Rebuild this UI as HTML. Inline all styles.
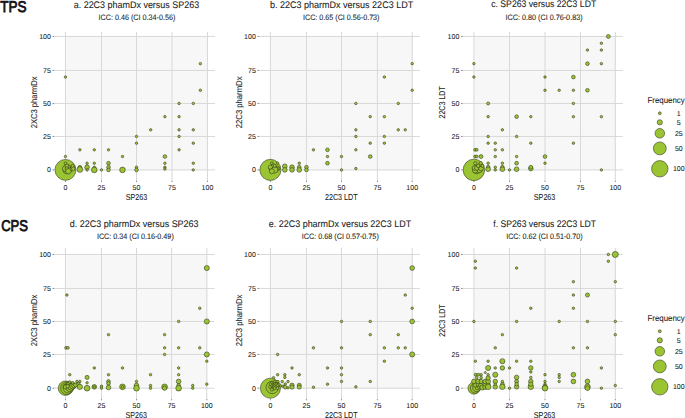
<!DOCTYPE html><html><head><meta charset="utf-8"><style>html,body{margin:0;padding:0;background:#fff;width:685px;height:418px;overflow:hidden}svg{display:block}text{font-family:"Liberation Sans", sans-serif;text-rendering:geometricPrecision}</style></head><body>
<svg width="685" height="418" viewBox="0 0 685 418">
<text x="0.3" y="11.7" font-size="15.6" fill="#111" stroke="#111" stroke-width="0.8" textLength="26.3" lengthAdjust="spacingAndGlyphs">TPS</text>
<text x="1.2" y="230.5" font-size="15.6" fill="#111" stroke="#111" stroke-width="0.8" textLength="26.8" lengthAdjust="spacingAndGlyphs">CPS</text>
<g><rect x="65.45" y="36.45" width="142.5" height="133.95" fill="#f7f7f7"/><line x1="65.45" y1="31.9" x2="65.45" y2="180.9" stroke="#d8d8d8" stroke-width="1"/><line x1="53.45" y1="169.9" x2="215.05" y2="169.9" stroke="#d8d8d8" stroke-width="1"/><line x1="65.45" y1="180.8" x2="65.45" y2="182" stroke="#8a8a8a" stroke-width="1"/><line x1="52.55" y1="169.9" x2="54.05" y2="169.9" stroke="#8a8a8a" stroke-width="1"/><text x="65.45" y="189.7" font-size="7" text-anchor="middle" font-weight="normal" fill="#222" stroke="#222" stroke-width="0.08">0</text><text x="50.85" y="172.3" font-size="7" text-anchor="end" font-weight="normal" fill="#222" stroke="#222" stroke-width="0.08">0</text><line x1="101.5" y1="31.9" x2="101.5" y2="180.9" stroke="#d8d8d8" stroke-width="1"/><line x1="53.45" y1="136.45" x2="215.05" y2="136.45" stroke="#d8d8d8" stroke-width="1"/><line x1="101.5" y1="180.8" x2="101.5" y2="182" stroke="#8a8a8a" stroke-width="1"/><line x1="52.55" y1="136.45" x2="54.05" y2="136.45" stroke="#8a8a8a" stroke-width="1"/><text x="101.5" y="189.7" font-size="7" text-anchor="middle" font-weight="normal" fill="#222" stroke="#222" stroke-width="0.08">25</text><text x="50.85" y="138.85" font-size="7" text-anchor="end" font-weight="normal" fill="#222" stroke="#222" stroke-width="0.08">25</text><line x1="136.5" y1="31.9" x2="136.5" y2="180.9" stroke="#d8d8d8" stroke-width="1"/><line x1="53.45" y1="103.45" x2="215.05" y2="103.45" stroke="#d8d8d8" stroke-width="1"/><line x1="136.5" y1="180.8" x2="136.5" y2="182" stroke="#8a8a8a" stroke-width="1"/><line x1="52.55" y1="103.45" x2="54.05" y2="103.45" stroke="#8a8a8a" stroke-width="1"/><text x="136.5" y="189.7" font-size="7" text-anchor="middle" font-weight="normal" fill="#222" stroke="#222" stroke-width="0.08">50</text><text x="50.85" y="105.85" font-size="7" text-anchor="end" font-weight="normal" fill="#222" stroke="#222" stroke-width="0.08">50</text><line x1="172" y1="31.9" x2="172" y2="180.9" stroke="#d8d8d8" stroke-width="1"/><line x1="53.45" y1="70.45" x2="215.05" y2="70.45" stroke="#d8d8d8" stroke-width="1"/><line x1="172" y1="180.8" x2="172" y2="182" stroke="#8a8a8a" stroke-width="1"/><line x1="52.55" y1="70.45" x2="54.05" y2="70.45" stroke="#8a8a8a" stroke-width="1"/><text x="172" y="189.7" font-size="7" text-anchor="middle" font-weight="normal" fill="#222" stroke="#222" stroke-width="0.08">75</text><text x="50.85" y="72.85" font-size="7" text-anchor="end" font-weight="normal" fill="#222" stroke="#222" stroke-width="0.08">75</text><line x1="207.45" y1="31.9" x2="207.45" y2="180.9" stroke="#d8d8d8" stroke-width="1"/><line x1="53.45" y1="36.45" x2="215.05" y2="36.45" stroke="#d8d8d8" stroke-width="1"/><line x1="207.45" y1="180.8" x2="207.45" y2="182" stroke="#8a8a8a" stroke-width="1"/><line x1="52.55" y1="36.45" x2="54.05" y2="36.45" stroke="#8a8a8a" stroke-width="1"/><text x="207.45" y="189.7" font-size="7" text-anchor="middle" font-weight="normal" fill="#222" stroke="#222" stroke-width="0.08">100</text><text x="50.85" y="38.85" font-size="7" text-anchor="end" font-weight="normal" fill="#222" stroke="#222" stroke-width="0.08">100</text><text x="73.7" y="7.6" font-size="9.5" text-anchor="start" font-weight="normal" fill="#222" stroke="#222" stroke-width="0.08" textLength="125.5" lengthAdjust="spacingAndGlyphs">a. 22C3 phamDx versus SP263</text><text x="98.6" y="19.7" font-size="7.9" text-anchor="start" font-weight="normal" fill="#222" stroke="#222" stroke-width="0.08" textLength="76.7" lengthAdjust="spacingAndGlyphs">ICC: 0.46 (CI 0.34-0.56)</text><text x="125.7" y="199.9" font-size="8.6" text-anchor="start" font-weight="normal" fill="#222" stroke="#222" stroke-width="0.08" textLength="21.5" lengthAdjust="spacingAndGlyphs">SP263</text><g transform="translate(36.75 102.38) rotate(-90)"><text x="-25.85" y="0" font-size="8.6" text-anchor="start" font-weight="normal" fill="#222" stroke="#222" stroke-width="0.08" textLength="51.7" lengthAdjust="spacingAndGlyphs">2XC3 pharmDx</text></g><g fill="#9bc432" stroke="#2b2d1c" stroke-width="0.55"><circle cx="65.45" cy="169.9" r="10.45"/><circle cx="66.89" cy="169.9" r="3.95"/><circle cx="65.45" cy="168.56" r="3.05"/><circle cx="68.33" cy="167.22" r="2.35"/><circle cx="72.66" cy="168.56" r="2.35"/><circle cx="66.89" cy="165.89" r="1.95"/><circle cx="65.45" cy="163.21" r="1.35"/><circle cx="69.78" cy="169.9" r="2.15"/><circle cx="66.89" cy="168.56" r="1.75"/><circle cx="72.66" cy="165.89" r="1.55"/><circle cx="68.33" cy="171.24" r="2.75"/><circle cx="65.45" cy="77.05" r="1.25"/><circle cx="200.36" cy="63.65" r="1.25"/><circle cx="200.36" cy="90.25" r="1.25"/><circle cx="179.09" cy="103.45" r="1.25"/><circle cx="193.27" cy="103.45" r="1.25"/><circle cx="164.9" cy="116.65" r="1.25"/><circle cx="179.09" cy="116.65" r="1.25"/><circle cx="150.7" cy="129.85" r="1.25"/><circle cx="179.09" cy="129.85" r="1.25"/><circle cx="193.27" cy="129.85" r="1.25"/><circle cx="136.5" cy="136.45" r="1.25"/><circle cx="179.09" cy="136.45" r="1.25"/><circle cx="136.5" cy="143.14" r="1.25"/><circle cx="193.27" cy="143.14" r="1.25"/><circle cx="179.09" cy="149.83" r="1.25"/><circle cx="164.9" cy="156.52" r="1.85"/><circle cx="164.9" cy="163.21" r="1.25"/><circle cx="193.27" cy="163.21" r="1.25"/><circle cx="164.9" cy="167.22" r="1.25"/><circle cx="164.9" cy="168.96" r="1.25"/><circle cx="193.27" cy="169.9" r="1.25"/><circle cx="136.5" cy="167.22" r="1.25"/><circle cx="136.5" cy="169.9" r="1.85"/><circle cx="79.87" cy="149.83" r="1.25"/><circle cx="94.29" cy="149.83" r="1.25"/><circle cx="108.5" cy="149.83" r="1.25"/><circle cx="65.45" cy="156.52" r="1.25"/><circle cx="122.5" cy="156.52" r="1.25"/><circle cx="87.08" cy="163.21" r="1.25"/><circle cx="94.29" cy="163.21" r="1.25"/><circle cx="108.5" cy="163.21" r="1.85"/><circle cx="79.87" cy="167.22" r="1.85"/><circle cx="79.87" cy="169.5" r="2.85"/><circle cx="87.08" cy="167.22" r="2.35"/><circle cx="87.08" cy="169.9" r="1.25"/><circle cx="94.29" cy="167.22" r="1.25"/><circle cx="94.29" cy="169.9" r="2.85"/><circle cx="101.5" cy="169.9" r="1.25"/><circle cx="108.5" cy="167.22" r="1.85"/><circle cx="108.5" cy="169.9" r="1.85"/><circle cx="122.5" cy="169.9" r="2.8"/></g></g>
<g><rect x="270.4" y="36.45" width="142.3" height="133.95" fill="#f7f7f7"/><line x1="270.4" y1="31.9" x2="270.4" y2="180.9" stroke="#d8d8d8" stroke-width="1"/><line x1="258.4" y1="169.9" x2="419.8" y2="169.9" stroke="#d8d8d8" stroke-width="1"/><line x1="270.4" y1="180.8" x2="270.4" y2="182" stroke="#8a8a8a" stroke-width="1"/><line x1="257.5" y1="169.9" x2="259" y2="169.9" stroke="#8a8a8a" stroke-width="1"/><text x="270.4" y="189.7" font-size="7" text-anchor="middle" font-weight="normal" fill="#222" stroke="#222" stroke-width="0.08">0</text><text x="255.8" y="172.3" font-size="7" text-anchor="end" font-weight="normal" fill="#222" stroke="#222" stroke-width="0.08">0</text><line x1="306.45" y1="31.9" x2="306.45" y2="180.9" stroke="#d8d8d8" stroke-width="1"/><line x1="258.4" y1="136.45" x2="419.8" y2="136.45" stroke="#d8d8d8" stroke-width="1"/><line x1="306.45" y1="180.8" x2="306.45" y2="182" stroke="#8a8a8a" stroke-width="1"/><line x1="257.5" y1="136.45" x2="259" y2="136.45" stroke="#8a8a8a" stroke-width="1"/><text x="306.45" y="189.7" font-size="7" text-anchor="middle" font-weight="normal" fill="#222" stroke="#222" stroke-width="0.08">25</text><text x="255.8" y="138.85" font-size="7" text-anchor="end" font-weight="normal" fill="#222" stroke="#222" stroke-width="0.08">25</text><line x1="341.5" y1="31.9" x2="341.5" y2="180.9" stroke="#d8d8d8" stroke-width="1"/><line x1="258.4" y1="103.45" x2="419.8" y2="103.45" stroke="#d8d8d8" stroke-width="1"/><line x1="341.5" y1="180.8" x2="341.5" y2="182" stroke="#8a8a8a" stroke-width="1"/><line x1="257.5" y1="103.45" x2="259" y2="103.45" stroke="#8a8a8a" stroke-width="1"/><text x="341.5" y="189.7" font-size="7" text-anchor="middle" font-weight="normal" fill="#222" stroke="#222" stroke-width="0.08">50</text><text x="255.8" y="105.85" font-size="7" text-anchor="end" font-weight="normal" fill="#222" stroke="#222" stroke-width="0.08">50</text><line x1="377.4" y1="31.9" x2="377.4" y2="180.9" stroke="#d8d8d8" stroke-width="1"/><line x1="258.4" y1="70.45" x2="419.8" y2="70.45" stroke="#d8d8d8" stroke-width="1"/><line x1="377.4" y1="180.8" x2="377.4" y2="182" stroke="#8a8a8a" stroke-width="1"/><line x1="257.5" y1="70.45" x2="259" y2="70.45" stroke="#8a8a8a" stroke-width="1"/><text x="377.4" y="189.7" font-size="7" text-anchor="middle" font-weight="normal" fill="#222" stroke="#222" stroke-width="0.08">75</text><text x="255.8" y="72.85" font-size="7" text-anchor="end" font-weight="normal" fill="#222" stroke="#222" stroke-width="0.08">75</text><line x1="412.2" y1="31.9" x2="412.2" y2="180.9" stroke="#d8d8d8" stroke-width="1"/><line x1="258.4" y1="36.45" x2="419.8" y2="36.45" stroke="#d8d8d8" stroke-width="1"/><line x1="412.2" y1="180.8" x2="412.2" y2="182" stroke="#8a8a8a" stroke-width="1"/><line x1="257.5" y1="36.45" x2="259" y2="36.45" stroke="#8a8a8a" stroke-width="1"/><text x="412.2" y="189.7" font-size="7" text-anchor="middle" font-weight="normal" fill="#222" stroke="#222" stroke-width="0.08">100</text><text x="255.8" y="38.85" font-size="7" text-anchor="end" font-weight="normal" fill="#222" stroke="#222" stroke-width="0.08">100</text><text x="269.9" y="7.6" font-size="9.5" text-anchor="start" font-weight="normal" fill="#222" stroke="#222" stroke-width="0.08" textLength="143.3" lengthAdjust="spacingAndGlyphs">b. 22C3 pharmDx versus 22C3 LDT</text><text x="303" y="19.7" font-size="7.9" text-anchor="start" font-weight="normal" fill="#222" stroke="#222" stroke-width="0.08" textLength="76.5" lengthAdjust="spacingAndGlyphs">ICC: 0.65 (CI 0.56-0.73)</text><text x="324.9" y="199.9" font-size="8.6" text-anchor="start" font-weight="normal" fill="#222" stroke="#222" stroke-width="0.08" textLength="32.8" lengthAdjust="spacingAndGlyphs">22C3 LDT</text><g transform="translate(241.7 102.38) rotate(-90)"><text x="-25.85" y="0" font-size="8.6" text-anchor="start" font-weight="normal" fill="#222" stroke="#222" stroke-width="0.08" textLength="51.7" lengthAdjust="spacingAndGlyphs">22C3 pharmDx</text></g><g fill="#9bc432" stroke="#2b2d1c" stroke-width="0.55"><circle cx="270.4" cy="169.9" r="10.55"/><circle cx="277.61" cy="168.56" r="2.35"/><circle cx="277.61" cy="168.56" r="1.15"/><circle cx="271.84" cy="163.21" r="1.35"/><circle cx="277.61" cy="163.21" r="1.25"/><circle cx="271.84" cy="168.56" r="2.75"/><circle cx="273.28" cy="165.89" r="1.95"/><circle cx="270.4" cy="167.22" r="2.15"/><circle cx="274.73" cy="169.9" r="3.15"/><circle cx="271.84" cy="171.24" r="2.55"/><circle cx="274.73" cy="165.89" r="1.55"/><circle cx="412.2" cy="63.65" r="1.25"/><circle cx="384.36" cy="77.05" r="1.25"/><circle cx="412.2" cy="90.25" r="1.25"/><circle cx="355.86" cy="103.45" r="1.25"/><circle cx="398.28" cy="103.45" r="1.25"/><circle cx="370.22" cy="116.65" r="1.25"/><circle cx="384.36" cy="116.65" r="1.25"/><circle cx="355.86" cy="129.85" r="1.25"/><circle cx="398.28" cy="129.85" r="1.25"/><circle cx="405.24" cy="129.85" r="1.25"/><circle cx="355.86" cy="136.45" r="1.25"/><circle cx="384.36" cy="136.45" r="1.25"/><circle cx="370.22" cy="143.14" r="1.25"/><circle cx="384.36" cy="143.14" r="1.25"/><circle cx="355.86" cy="149.83" r="1.25"/><circle cx="341.5" cy="156.52" r="1.25"/><circle cx="370.22" cy="156.52" r="1.85"/><circle cx="355.86" cy="168.56" r="1.25"/><circle cx="341.5" cy="169.9" r="1.25"/><circle cx="313.46" cy="149.83" r="1.25"/><circle cx="327.48" cy="149.83" r="1.85"/><circle cx="327.48" cy="156.52" r="1.25"/><circle cx="327.48" cy="163.21" r="1.85"/><circle cx="299.24" cy="163.21" r="1.25"/><circle cx="284.82" cy="166.29" r="2.35"/><circle cx="284.82" cy="169.9" r="2.35"/><circle cx="292.03" cy="167.22" r="2.35"/><circle cx="292.03" cy="169.9" r="2.35"/><circle cx="299.24" cy="167.22" r="1.85"/><circle cx="299.24" cy="169.9" r="2.35"/><circle cx="306.45" cy="167.22" r="1.85"/><circle cx="306.45" cy="169.9" r="1.85"/></g></g>
<g><rect x="473.9" y="36.45" width="141.9" height="133.95" fill="#f7f7f7"/><line x1="473.9" y1="31.9" x2="473.9" y2="180.9" stroke="#d8d8d8" stroke-width="1"/><line x1="461.9" y1="169.9" x2="622.9" y2="169.9" stroke="#d8d8d8" stroke-width="1"/><line x1="473.9" y1="180.8" x2="473.9" y2="182" stroke="#8a8a8a" stroke-width="1"/><line x1="461" y1="169.9" x2="462.5" y2="169.9" stroke="#8a8a8a" stroke-width="1"/><text x="473.9" y="189.7" font-size="7" text-anchor="middle" font-weight="normal" fill="#222" stroke="#222" stroke-width="0.08">0</text><text x="459.3" y="172.3" font-size="7" text-anchor="end" font-weight="normal" fill="#222" stroke="#222" stroke-width="0.08">0</text><line x1="509.5" y1="31.9" x2="509.5" y2="180.9" stroke="#d8d8d8" stroke-width="1"/><line x1="461.9" y1="136.45" x2="622.9" y2="136.45" stroke="#d8d8d8" stroke-width="1"/><line x1="509.5" y1="180.8" x2="509.5" y2="182" stroke="#8a8a8a" stroke-width="1"/><line x1="461" y1="136.45" x2="462.5" y2="136.45" stroke="#8a8a8a" stroke-width="1"/><text x="509.5" y="189.7" font-size="7" text-anchor="middle" font-weight="normal" fill="#222" stroke="#222" stroke-width="0.08">25</text><text x="459.3" y="138.85" font-size="7" text-anchor="end" font-weight="normal" fill="#222" stroke="#222" stroke-width="0.08">25</text><line x1="545" y1="31.9" x2="545" y2="180.9" stroke="#d8d8d8" stroke-width="1"/><line x1="461.9" y1="103.45" x2="622.9" y2="103.45" stroke="#d8d8d8" stroke-width="1"/><line x1="545" y1="180.8" x2="545" y2="182" stroke="#8a8a8a" stroke-width="1"/><line x1="461" y1="103.45" x2="462.5" y2="103.45" stroke="#8a8a8a" stroke-width="1"/><text x="545" y="189.7" font-size="7" text-anchor="middle" font-weight="normal" fill="#222" stroke="#222" stroke-width="0.08">50</text><text x="459.3" y="105.85" font-size="7" text-anchor="end" font-weight="normal" fill="#222" stroke="#222" stroke-width="0.08">50</text><line x1="580.5" y1="31.9" x2="580.5" y2="180.9" stroke="#d8d8d8" stroke-width="1"/><line x1="461.9" y1="70.45" x2="622.9" y2="70.45" stroke="#d8d8d8" stroke-width="1"/><line x1="580.5" y1="180.8" x2="580.5" y2="182" stroke="#8a8a8a" stroke-width="1"/><line x1="461" y1="70.45" x2="462.5" y2="70.45" stroke="#8a8a8a" stroke-width="1"/><text x="580.5" y="189.7" font-size="7" text-anchor="middle" font-weight="normal" fill="#222" stroke="#222" stroke-width="0.08">75</text><text x="459.3" y="72.85" font-size="7" text-anchor="end" font-weight="normal" fill="#222" stroke="#222" stroke-width="0.08">75</text><line x1="615.3" y1="31.9" x2="615.3" y2="180.9" stroke="#d8d8d8" stroke-width="1"/><line x1="461.9" y1="36.45" x2="622.9" y2="36.45" stroke="#d8d8d8" stroke-width="1"/><line x1="615.3" y1="180.8" x2="615.3" y2="182" stroke="#8a8a8a" stroke-width="1"/><line x1="461" y1="36.45" x2="462.5" y2="36.45" stroke="#8a8a8a" stroke-width="1"/><text x="615.3" y="189.7" font-size="7" text-anchor="middle" font-weight="normal" fill="#222" stroke="#222" stroke-width="0.08">100</text><text x="459.3" y="38.85" font-size="7" text-anchor="end" font-weight="normal" fill="#222" stroke="#222" stroke-width="0.08">100</text><text x="491.2" y="6.9" font-size="9.5" text-anchor="start" font-weight="normal" fill="#222" stroke="#222" stroke-width="0.08" textLength="105" lengthAdjust="spacingAndGlyphs">c. SP263 versus 22C3 LDT</text><text x="505.5" y="19.7" font-size="7.9" text-anchor="start" font-weight="normal" fill="#222" stroke="#222" stroke-width="0.08" textLength="77.1" lengthAdjust="spacingAndGlyphs">ICC: 0.80 (CI 0.76-0.83)</text><text x="533.85" y="199.9" font-size="8.6" text-anchor="start" font-weight="normal" fill="#222" stroke="#222" stroke-width="0.08" textLength="21.5" lengthAdjust="spacingAndGlyphs">SP263</text><g transform="translate(445.2 102.38) rotate(-90)"><text x="-16.15" y="0" font-size="8.6" text-anchor="start" font-weight="normal" fill="#222" stroke="#222" stroke-width="0.08" textLength="32.3" lengthAdjust="spacingAndGlyphs">22C3 LDT</text></g><g fill="#9bc432" stroke="#2b2d1c" stroke-width="0.55"><circle cx="473.9" cy="169.9" r="10.75"/><circle cx="476.75" cy="169.9" r="3.95"/><circle cx="475.32" cy="169.9" r="3.05"/><circle cx="479.6" cy="169.9" r="2.75"/><circle cx="474.33" cy="167.89" r="2.25"/><circle cx="476.75" cy="167.89" r="2.35"/><circle cx="481.02" cy="168.56" r="2.35"/><circle cx="478.17" cy="165.89" r="1.75"/><circle cx="482.44" cy="165.89" r="1.55"/><circle cx="475.32" cy="163.21" r="1.65"/><circle cx="480.74" cy="163.21" r="1.65"/><circle cx="608.34" cy="36.45" r="1.95"/><circle cx="601.38" cy="43.25" r="1.25"/><circle cx="587.46" cy="50.05" r="1.25"/><circle cx="601.38" cy="50.05" r="1.25"/><circle cx="587.46" cy="63.65" r="1.85"/><circle cx="601.38" cy="63.65" r="1.25"/><circle cx="473.9" cy="63.65" r="1.25"/><circle cx="473.9" cy="77.05" r="1.25"/><circle cx="545" cy="77.05" r="1.25"/><circle cx="573.4" cy="77.05" r="1.85"/><circle cx="545" cy="90.25" r="1.25"/><circle cx="559.2" cy="90.25" r="1.25"/><circle cx="573.4" cy="90.25" r="1.25"/><circle cx="587.46" cy="90.25" r="1.85"/><circle cx="488.14" cy="103.45" r="1.55"/><circle cx="573.4" cy="103.45" r="1.25"/><circle cx="488.14" cy="116.65" r="1.25"/><circle cx="516.6" cy="116.65" r="1.85"/><circle cx="530.8" cy="116.65" r="1.25"/><circle cx="573.4" cy="116.65" r="1.25"/><circle cx="601.38" cy="116.65" r="1.25"/><circle cx="502.38" cy="129.85" r="1.25"/><circle cx="488.14" cy="136.45" r="1.25"/><circle cx="516.6" cy="136.45" r="1.25"/><circle cx="488.14" cy="143.14" r="1.25"/><circle cx="495.26" cy="143.14" r="1.25"/><circle cx="530.8" cy="143.14" r="1.25"/><circle cx="573.4" cy="143.14" r="1.25"/><circle cx="475.04" cy="149.83" r="1.4"/><circle cx="476.75" cy="149.83" r="1.4"/><circle cx="495.26" cy="149.83" r="1.25"/><circle cx="502.38" cy="149.83" r="1.25"/><circle cx="475.04" cy="156.52" r="1.4"/><circle cx="476.75" cy="156.52" r="1.4"/><circle cx="481.02" cy="156.52" r="1.95"/><circle cx="495.26" cy="156.52" r="1.25"/><circle cx="516.6" cy="156.52" r="1.25"/><circle cx="545" cy="156.52" r="1.85"/><circle cx="488.14" cy="163.21" r="1.25"/><circle cx="502.38" cy="163.21" r="1.25"/><circle cx="516.6" cy="163.21" r="1.85"/><circle cx="545" cy="163.21" r="1.25"/><circle cx="488.14" cy="167.22" r="1.85"/><circle cx="488.14" cy="169.23" r="2.35"/><circle cx="495.26" cy="167.22" r="1.25"/><circle cx="495.26" cy="169.9" r="1.25"/><circle cx="502.38" cy="167.22" r="1.85"/><circle cx="502.38" cy="169.23" r="2.35"/><circle cx="509.5" cy="169.9" r="1.25"/><circle cx="516.6" cy="169.23" r="2.35"/><circle cx="530.8" cy="168.56" r="2.35"/><circle cx="530.8" cy="167.22" r="1.85"/><circle cx="601.38" cy="169.9" r="1.25"/></g></g>
<g><rect x="65.45" y="254.45" width="141.85" height="134.25" fill="#f7f7f7"/><line x1="65.45" y1="247.8" x2="65.45" y2="399.2" stroke="#d8d8d8" stroke-width="1"/><line x1="53.45" y1="388.2" x2="214.4" y2="388.2" stroke="#d8d8d8" stroke-width="1"/><line x1="65.45" y1="399.1" x2="65.45" y2="400.3" stroke="#8a8a8a" stroke-width="1"/><line x1="52.55" y1="388.2" x2="54.05" y2="388.2" stroke="#8a8a8a" stroke-width="1"/><text x="65.45" y="408" font-size="7" text-anchor="middle" font-weight="normal" fill="#222" stroke="#222" stroke-width="0.08">0</text><text x="50.85" y="390.6" font-size="7" text-anchor="end" font-weight="normal" fill="#222" stroke="#222" stroke-width="0.08">0</text><line x1="101.5" y1="247.8" x2="101.5" y2="399.2" stroke="#d8d8d8" stroke-width="1"/><line x1="53.45" y1="354.45" x2="214.4" y2="354.45" stroke="#d8d8d8" stroke-width="1"/><line x1="101.5" y1="399.1" x2="101.5" y2="400.3" stroke="#8a8a8a" stroke-width="1"/><line x1="52.55" y1="354.45" x2="54.05" y2="354.45" stroke="#8a8a8a" stroke-width="1"/><text x="101.5" y="408" font-size="7" text-anchor="middle" font-weight="normal" fill="#222" stroke="#222" stroke-width="0.08">25</text><text x="50.85" y="356.85" font-size="7" text-anchor="end" font-weight="normal" fill="#222" stroke="#222" stroke-width="0.08">25</text><line x1="136.5" y1="247.8" x2="136.5" y2="399.2" stroke="#d8d8d8" stroke-width="1"/><line x1="53.45" y1="321.45" x2="214.4" y2="321.45" stroke="#d8d8d8" stroke-width="1"/><line x1="136.5" y1="399.1" x2="136.5" y2="400.3" stroke="#8a8a8a" stroke-width="1"/><line x1="52.55" y1="321.45" x2="54.05" y2="321.45" stroke="#8a8a8a" stroke-width="1"/><text x="136.5" y="408" font-size="7" text-anchor="middle" font-weight="normal" fill="#222" stroke="#222" stroke-width="0.08">50</text><text x="50.85" y="323.85" font-size="7" text-anchor="end" font-weight="normal" fill="#222" stroke="#222" stroke-width="0.08">50</text><line x1="171.6" y1="247.8" x2="171.6" y2="399.2" stroke="#d8d8d8" stroke-width="1"/><line x1="53.45" y1="288.45" x2="214.4" y2="288.45" stroke="#d8d8d8" stroke-width="1"/><line x1="171.6" y1="399.1" x2="171.6" y2="400.3" stroke="#8a8a8a" stroke-width="1"/><line x1="52.55" y1="288.45" x2="54.05" y2="288.45" stroke="#8a8a8a" stroke-width="1"/><text x="171.6" y="408" font-size="7" text-anchor="middle" font-weight="normal" fill="#222" stroke="#222" stroke-width="0.08">75</text><text x="50.85" y="290.85" font-size="7" text-anchor="end" font-weight="normal" fill="#222" stroke="#222" stroke-width="0.08">75</text><line x1="206.8" y1="247.8" x2="206.8" y2="399.2" stroke="#d8d8d8" stroke-width="1"/><line x1="53.45" y1="254.45" x2="214.4" y2="254.45" stroke="#d8d8d8" stroke-width="1"/><line x1="206.8" y1="399.1" x2="206.8" y2="400.3" stroke="#8a8a8a" stroke-width="1"/><line x1="52.55" y1="254.45" x2="54.05" y2="254.45" stroke="#8a8a8a" stroke-width="1"/><text x="206.8" y="408" font-size="7" text-anchor="middle" font-weight="normal" fill="#222" stroke="#222" stroke-width="0.08">100</text><text x="50.85" y="256.85" font-size="7" text-anchor="end" font-weight="normal" fill="#222" stroke="#222" stroke-width="0.08">100</text><text x="69.8" y="227" font-size="9.5" text-anchor="start" font-weight="normal" fill="#222" stroke="#222" stroke-width="0.08" textLength="128.8" lengthAdjust="spacingAndGlyphs">d. 22C3 pharmDx versus SP263</text><text x="96.9" y="238.8" font-size="7.9" text-anchor="start" font-weight="normal" fill="#222" stroke="#222" stroke-width="0.08" textLength="76.9" lengthAdjust="spacingAndGlyphs">ICC: 0.34 (CI 0.16-0.49)</text><text x="125.38" y="418.2" font-size="8.6" text-anchor="start" font-weight="normal" fill="#222" stroke="#222" stroke-width="0.08" textLength="21.5" lengthAdjust="spacingAndGlyphs">SP263</text><g transform="translate(36.75 320.52) rotate(-90)"><text x="-25.85" y="0" font-size="8.6" text-anchor="start" font-weight="normal" fill="#222" stroke="#222" stroke-width="0.08" textLength="51.7" lengthAdjust="spacingAndGlyphs">2XC3 pharmDx</text></g><g fill="#9bc432" stroke="#2b2d1c" stroke-width="0.55"><circle cx="65.45" cy="388.2" r="7.25"/><circle cx="66.89" cy="388.2" r="6.25"/><circle cx="68.33" cy="387.66" r="5.35"/><circle cx="69.78" cy="387.12" r="4.45"/><circle cx="71.22" cy="386.58" r="3.65"/><circle cx="72.66" cy="386.04" r="2.95"/><circle cx="74.1" cy="385.5" r="2.45"/><circle cx="75.54" cy="384.96" r="2.05"/><circle cx="66.89" cy="385.5" r="1.75"/><circle cx="68.33" cy="383.47" r="1.55"/><circle cx="69.78" cy="382.12" r="1.35"/><circle cx="72.66" cy="382.8" r="1.35"/><circle cx="65.45" cy="386.85" r="2.15"/><circle cx="67.61" cy="386.18" r="1.75"/><circle cx="76.99" cy="381.45" r="1.25"/><circle cx="79.87" cy="381.45" r="1.25"/><circle cx="78.43" cy="384.15" r="1.75"/><circle cx="79.87" cy="386.85" r="2.65"/><circle cx="66.89" cy="295.05" r="1.25"/><circle cx="206.8" cy="268.05" r="2.55"/><circle cx="199.76" cy="308.25" r="1.25"/><circle cx="178.64" cy="321.45" r="1.25"/><circle cx="206.8" cy="321.45" r="2.55"/><circle cx="164.58" cy="334.65" r="1.25"/><circle cx="108.5" cy="334.65" r="1.25"/><circle cx="66.03" cy="347.85" r="1.4"/><circle cx="67.9" cy="347.85" r="1.4"/><circle cx="164.58" cy="347.85" r="1.25"/><circle cx="178.64" cy="347.85" r="1.25"/><circle cx="199.76" cy="347.85" r="1.25"/><circle cx="164.58" cy="354.45" r="1.25"/><circle cx="206.8" cy="354.45" r="2.55"/><circle cx="206.8" cy="361.2" r="1.25"/><circle cx="178.64" cy="367.95" r="1.25"/><circle cx="94.29" cy="367.95" r="1.25"/><circle cx="122.5" cy="367.95" r="1.25"/><circle cx="150.54" cy="374.7" r="1.25"/><circle cx="178.64" cy="374.7" r="1.25"/><circle cx="69.78" cy="374.7" r="1.25"/><circle cx="108.5" cy="374.7" r="1.25"/><circle cx="87.08" cy="377.4" r="2.05"/><circle cx="87.08" cy="382.8" r="1.25"/><circle cx="108.5" cy="381.45" r="1.85"/><circle cx="108.5" cy="383.47" r="1.85"/><circle cx="108.5" cy="387.52" r="2.35"/><circle cx="87.08" cy="388.2" r="2.85"/><circle cx="94.29" cy="386.85" r="2.35"/><circle cx="94.29" cy="386.85" r="1.25"/><circle cx="101.5" cy="386.18" r="1.25"/><circle cx="101.5" cy="388.2" r="1.25"/><circle cx="122.5" cy="386.85" r="2.85"/><circle cx="122.5" cy="386.85" r="1.35"/><circle cx="136.5" cy="381.45" r="1.25"/><circle cx="136.5" cy="385.5" r="2.35"/><circle cx="136.5" cy="388.2" r="2.85"/><circle cx="150.54" cy="385.5" r="1.25"/><circle cx="150.54" cy="388.2" r="1.25"/><circle cx="164.58" cy="386.85" r="2.85"/><circle cx="164.58" cy="388.2" r="2.15"/><circle cx="178.64" cy="381.45" r="2.35"/><circle cx="178.64" cy="385.5" r="1.85"/><circle cx="178.64" cy="388.2" r="2.85"/><circle cx="192.72" cy="385.5" r="1.25"/><circle cx="192.72" cy="388.2" r="1.25"/><circle cx="206.8" cy="384.15" r="1.25"/></g></g>
<g><rect x="270.4" y="254.45" width="142.3" height="134.25" fill="#f7f7f7"/><line x1="270.4" y1="247.8" x2="270.4" y2="399.2" stroke="#d8d8d8" stroke-width="1"/><line x1="258.4" y1="388.2" x2="419.8" y2="388.2" stroke="#d8d8d8" stroke-width="1"/><line x1="270.4" y1="399.1" x2="270.4" y2="400.3" stroke="#8a8a8a" stroke-width="1"/><line x1="257.5" y1="388.2" x2="259" y2="388.2" stroke="#8a8a8a" stroke-width="1"/><text x="270.4" y="408" font-size="7" text-anchor="middle" font-weight="normal" fill="#222" stroke="#222" stroke-width="0.08">0</text><text x="255.8" y="390.6" font-size="7" text-anchor="end" font-weight="normal" fill="#222" stroke="#222" stroke-width="0.08">0</text><line x1="306.45" y1="247.8" x2="306.45" y2="399.2" stroke="#d8d8d8" stroke-width="1"/><line x1="258.4" y1="354.45" x2="419.8" y2="354.45" stroke="#d8d8d8" stroke-width="1"/><line x1="306.45" y1="399.1" x2="306.45" y2="400.3" stroke="#8a8a8a" stroke-width="1"/><line x1="257.5" y1="354.45" x2="259" y2="354.45" stroke="#8a8a8a" stroke-width="1"/><text x="306.45" y="408" font-size="7" text-anchor="middle" font-weight="normal" fill="#222" stroke="#222" stroke-width="0.08">25</text><text x="255.8" y="356.85" font-size="7" text-anchor="end" font-weight="normal" fill="#222" stroke="#222" stroke-width="0.08">25</text><line x1="341.5" y1="247.8" x2="341.5" y2="399.2" stroke="#d8d8d8" stroke-width="1"/><line x1="258.4" y1="321.45" x2="419.8" y2="321.45" stroke="#d8d8d8" stroke-width="1"/><line x1="341.5" y1="399.1" x2="341.5" y2="400.3" stroke="#8a8a8a" stroke-width="1"/><line x1="257.5" y1="321.45" x2="259" y2="321.45" stroke="#8a8a8a" stroke-width="1"/><text x="341.5" y="408" font-size="7" text-anchor="middle" font-weight="normal" fill="#222" stroke="#222" stroke-width="0.08">50</text><text x="255.8" y="323.85" font-size="7" text-anchor="end" font-weight="normal" fill="#222" stroke="#222" stroke-width="0.08">50</text><line x1="377.4" y1="247.8" x2="377.4" y2="399.2" stroke="#d8d8d8" stroke-width="1"/><line x1="258.4" y1="288.45" x2="419.8" y2="288.45" stroke="#d8d8d8" stroke-width="1"/><line x1="377.4" y1="399.1" x2="377.4" y2="400.3" stroke="#8a8a8a" stroke-width="1"/><line x1="257.5" y1="288.45" x2="259" y2="288.45" stroke="#8a8a8a" stroke-width="1"/><text x="377.4" y="408" font-size="7" text-anchor="middle" font-weight="normal" fill="#222" stroke="#222" stroke-width="0.08">75</text><text x="255.8" y="290.85" font-size="7" text-anchor="end" font-weight="normal" fill="#222" stroke="#222" stroke-width="0.08">75</text><line x1="412.2" y1="247.8" x2="412.2" y2="399.2" stroke="#d8d8d8" stroke-width="1"/><line x1="258.4" y1="254.45" x2="419.8" y2="254.45" stroke="#d8d8d8" stroke-width="1"/><line x1="412.2" y1="399.1" x2="412.2" y2="400.3" stroke="#8a8a8a" stroke-width="1"/><line x1="257.5" y1="254.45" x2="259" y2="254.45" stroke="#8a8a8a" stroke-width="1"/><text x="412.2" y="408" font-size="7" text-anchor="middle" font-weight="normal" fill="#222" stroke="#222" stroke-width="0.08">100</text><text x="255.8" y="256.85" font-size="7" text-anchor="end" font-weight="normal" fill="#222" stroke="#222" stroke-width="0.08">100</text><text x="268.8" y="227" font-size="9.5" text-anchor="start" font-weight="normal" fill="#222" stroke="#222" stroke-width="0.08" textLength="142.4" lengthAdjust="spacingAndGlyphs">e. 22C3 pharmDx versus 22C3 LDT</text><text x="301.8" y="239.2" font-size="7.9" text-anchor="start" font-weight="normal" fill="#222" stroke="#222" stroke-width="0.08" textLength="77" lengthAdjust="spacingAndGlyphs">ICC: 0.68 (CI 0.57-0.75)</text><text x="324.9" y="418.2" font-size="8.6" text-anchor="start" font-weight="normal" fill="#222" stroke="#222" stroke-width="0.08" textLength="32.8" lengthAdjust="spacingAndGlyphs">22C3 LDT</text><g transform="translate(241.7 320.52) rotate(-90)"><text x="-25.85" y="0" font-size="8.6" text-anchor="start" font-weight="normal" fill="#222" stroke="#222" stroke-width="0.08" textLength="51.7" lengthAdjust="spacingAndGlyphs">22C3 pharmDx</text></g><g fill="#9bc432" stroke="#2b2d1c" stroke-width="0.55"><circle cx="270.4" cy="388.2" r="10.05"/><circle cx="272.27" cy="387.39" r="6.25"/><circle cx="270.4" cy="386.85" r="1.75"/><circle cx="271.84" cy="385.5" r="1.55"/><circle cx="273.28" cy="384.15" r="1.35"/><circle cx="274.73" cy="385.5" r="1.75"/><circle cx="271.84" cy="382.8" r="1.25"/><circle cx="274.73" cy="382.8" r="1.35"/><circle cx="276.17" cy="386.85" r="1.55"/><circle cx="273.28" cy="388.2" r="1.95"/><circle cx="270.4" cy="384.15" r="1.35"/><circle cx="276.17" cy="384.15" r="1.25"/><circle cx="277.61" cy="385.5" r="1.25"/><circle cx="273.28" cy="386.85" r="1.15"/><circle cx="274.73" cy="388.2" r="1.55"/><circle cx="271.84" cy="389.55" r="1.55"/><circle cx="277.61" cy="388.2" r="1.35"/><circle cx="273.57" cy="377.67" r="1.25"/><circle cx="275.01" cy="381.31" r="1.25"/><circle cx="277.9" cy="381.58" r="1.25"/><circle cx="282.22" cy="381.58" r="1.25"/><circle cx="287.99" cy="381.58" r="1.25"/><circle cx="285.25" cy="384.01" r="1.25"/><circle cx="280.78" cy="385.9" r="1.25"/><circle cx="283.23" cy="386.31" r="1.25"/><circle cx="285.25" cy="387.25" r="1.85"/><circle cx="287.99" cy="387.8" r="1.25"/><circle cx="279.05" cy="384.15" r="1.25"/><circle cx="412.2" cy="268.05" r="2.35"/><circle cx="405.24" cy="295.05" r="1.25"/><circle cx="412.2" cy="308.25" r="1.25"/><circle cx="341.5" cy="321.45" r="1.25"/><circle cx="370.22" cy="321.45" r="1.25"/><circle cx="412.2" cy="321.45" r="2.35"/><circle cx="370.22" cy="334.65" r="1.25"/><circle cx="398.28" cy="334.65" r="1.25"/><circle cx="341.5" cy="347.85" r="1.25"/><circle cx="384.36" cy="347.85" r="1.25"/><circle cx="398.28" cy="347.85" r="1.25"/><circle cx="405.24" cy="347.85" r="1.25"/><circle cx="313.46" cy="347.85" r="1.25"/><circle cx="412.2" cy="354.45" r="2.55"/><circle cx="384.36" cy="361.2" r="1.25"/><circle cx="341.5" cy="367.95" r="1.25"/><circle cx="341.5" cy="374.7" r="1.25"/><circle cx="341.5" cy="381.45" r="1.25"/><circle cx="370.22" cy="381.45" r="1.25"/><circle cx="355.86" cy="386.85" r="1.25"/><circle cx="277.61" cy="354.45" r="1.25"/><circle cx="292.03" cy="367.95" r="1.25"/><circle cx="327.48" cy="367.95" r="1.25"/><circle cx="277.61" cy="374.7" r="1.25"/><circle cx="284.82" cy="374.7" r="1.25"/><circle cx="284.82" cy="377.4" r="1.25"/><circle cx="299.24" cy="374.7" r="1.25"/><circle cx="327.48" cy="384.15" r="1.25"/><circle cx="292.03" cy="385.23" r="2.15"/><circle cx="292.03" cy="387.12" r="2.15"/><circle cx="299.24" cy="385.23" r="2.05"/><circle cx="299.24" cy="387.12" r="2.05"/><circle cx="313.46" cy="387.25" r="1.25"/></g></g>
<g><rect x="473.9" y="254.45" width="141.9" height="134.25" fill="#f7f7f7"/><line x1="473.9" y1="247.8" x2="473.9" y2="399.2" stroke="#d8d8d8" stroke-width="1"/><line x1="461.9" y1="388.2" x2="622.9" y2="388.2" stroke="#d8d8d8" stroke-width="1"/><line x1="473.9" y1="399.1" x2="473.9" y2="400.3" stroke="#8a8a8a" stroke-width="1"/><line x1="461" y1="388.2" x2="462.5" y2="388.2" stroke="#8a8a8a" stroke-width="1"/><text x="473.9" y="408" font-size="7" text-anchor="middle" font-weight="normal" fill="#222" stroke="#222" stroke-width="0.08">0</text><text x="459.3" y="390.6" font-size="7" text-anchor="end" font-weight="normal" fill="#222" stroke="#222" stroke-width="0.08">0</text><line x1="509.5" y1="247.8" x2="509.5" y2="399.2" stroke="#d8d8d8" stroke-width="1"/><line x1="461.9" y1="354.45" x2="622.9" y2="354.45" stroke="#d8d8d8" stroke-width="1"/><line x1="509.5" y1="399.1" x2="509.5" y2="400.3" stroke="#8a8a8a" stroke-width="1"/><line x1="461" y1="354.45" x2="462.5" y2="354.45" stroke="#8a8a8a" stroke-width="1"/><text x="509.5" y="408" font-size="7" text-anchor="middle" font-weight="normal" fill="#222" stroke="#222" stroke-width="0.08">25</text><text x="459.3" y="356.85" font-size="7" text-anchor="end" font-weight="normal" fill="#222" stroke="#222" stroke-width="0.08">25</text><line x1="545" y1="247.8" x2="545" y2="399.2" stroke="#d8d8d8" stroke-width="1"/><line x1="461.9" y1="321.45" x2="622.9" y2="321.45" stroke="#d8d8d8" stroke-width="1"/><line x1="545" y1="399.1" x2="545" y2="400.3" stroke="#8a8a8a" stroke-width="1"/><line x1="461" y1="321.45" x2="462.5" y2="321.45" stroke="#8a8a8a" stroke-width="1"/><text x="545" y="408" font-size="7" text-anchor="middle" font-weight="normal" fill="#222" stroke="#222" stroke-width="0.08">50</text><text x="459.3" y="323.85" font-size="7" text-anchor="end" font-weight="normal" fill="#222" stroke="#222" stroke-width="0.08">50</text><line x1="580.5" y1="247.8" x2="580.5" y2="399.2" stroke="#d8d8d8" stroke-width="1"/><line x1="461.9" y1="288.45" x2="622.9" y2="288.45" stroke="#d8d8d8" stroke-width="1"/><line x1="580.5" y1="399.1" x2="580.5" y2="400.3" stroke="#8a8a8a" stroke-width="1"/><line x1="461" y1="288.45" x2="462.5" y2="288.45" stroke="#8a8a8a" stroke-width="1"/><text x="580.5" y="408" font-size="7" text-anchor="middle" font-weight="normal" fill="#222" stroke="#222" stroke-width="0.08">75</text><text x="459.3" y="290.85" font-size="7" text-anchor="end" font-weight="normal" fill="#222" stroke="#222" stroke-width="0.08">75</text><line x1="615.3" y1="247.8" x2="615.3" y2="399.2" stroke="#d8d8d8" stroke-width="1"/><line x1="461.9" y1="254.45" x2="622.9" y2="254.45" stroke="#d8d8d8" stroke-width="1"/><line x1="615.3" y1="399.1" x2="615.3" y2="400.3" stroke="#8a8a8a" stroke-width="1"/><line x1="461" y1="254.45" x2="462.5" y2="254.45" stroke="#8a8a8a" stroke-width="1"/><text x="615.3" y="408" font-size="7" text-anchor="middle" font-weight="normal" fill="#222" stroke="#222" stroke-width="0.08">100</text><text x="459.3" y="256.85" font-size="7" text-anchor="end" font-weight="normal" fill="#222" stroke="#222" stroke-width="0.08">100</text><text x="493.3" y="226.6" font-size="9.5" text-anchor="start" font-weight="normal" fill="#222" stroke="#222" stroke-width="0.08" textLength="102.8" lengthAdjust="spacingAndGlyphs">f. SP263 versus 22C3 LDT</text><text x="506.2" y="238.8" font-size="7.9" text-anchor="start" font-weight="normal" fill="#222" stroke="#222" stroke-width="0.08" textLength="76.4" lengthAdjust="spacingAndGlyphs">ICC: 0.62 (CI 0.51-0.70)</text><text x="533.85" y="418.2" font-size="8.6" text-anchor="start" font-weight="normal" fill="#222" stroke="#222" stroke-width="0.08" textLength="21.5" lengthAdjust="spacingAndGlyphs">SP263</text><g transform="translate(445.2 320.52) rotate(-90)"><text x="-16.15" y="0" font-size="8.6" text-anchor="start" font-weight="normal" fill="#222" stroke="#222" stroke-width="0.08" textLength="32.3" lengthAdjust="spacingAndGlyphs">22C3 LDT</text></g><g fill="#9bc432" stroke="#2b2d1c" stroke-width="0.55"><circle cx="473.9" cy="388.2" r="5.95"/><circle cx="475.32" cy="388.2" r="4.95"/><circle cx="476.75" cy="387.52" r="4.05"/><circle cx="478.17" cy="386.85" r="3.25"/><circle cx="479.6" cy="386.18" r="2.65"/><circle cx="475.32" cy="384.82" r="2.25"/><circle cx="478.17" cy="384.15" r="2.05"/><circle cx="481.02" cy="385.5" r="2.35"/><circle cx="482.44" cy="387.52" r="2.55"/><circle cx="485.29" cy="386.85" r="2.55"/><circle cx="485.29" cy="384.15" r="2.15"/><circle cx="488.14" cy="384.15" r="2.05"/><circle cx="473.9" cy="381.45" r="2.35"/><circle cx="478.17" cy="381.45" r="2.35"/><circle cx="481.02" cy="381.45" r="2.05"/><circle cx="485.29" cy="381.45" r="2.35"/><circle cx="488.14" cy="381.45" r="2.35"/><circle cx="475.61" cy="374.7" r="1.45"/><circle cx="478.31" cy="374.7" r="1.45"/><circle cx="481.16" cy="374.7" r="1.25"/><circle cx="476.61" cy="377.67" r="1.35"/><circle cx="481.16" cy="377.67" r="1.35"/><circle cx="485.29" cy="372.54" r="1.05"/><circle cx="488.14" cy="377.94" r="2.25"/><circle cx="615.3" cy="254.45" r="3.05"/><circle cx="608.34" cy="254.45" r="1.25"/><circle cx="608.34" cy="261.25" r="1.25"/><circle cx="573.4" cy="281.65" r="1.25"/><circle cx="615.3" cy="281.65" r="1.25"/><circle cx="573.4" cy="295.05" r="1.25"/><circle cx="587.46" cy="295.05" r="2.05"/><circle cx="573.4" cy="308.25" r="1.25"/><circle cx="559.2" cy="321.45" r="1.25"/><circle cx="587.46" cy="321.45" r="1.25"/><circle cx="615.3" cy="321.45" r="1.25"/><circle cx="615.3" cy="334.65" r="1.25"/><circle cx="573.4" cy="347.85" r="1.25"/><circle cx="587.46" cy="347.85" r="1.25"/><circle cx="601.38" cy="367.95" r="1.25"/><circle cx="545" cy="374.7" r="1.25"/><circle cx="559.2" cy="374.7" r="1.25"/><circle cx="559.2" cy="377.4" r="1.25"/><circle cx="573.4" cy="374.7" r="2.35"/><circle cx="545" cy="381.45" r="1.25"/><circle cx="545" cy="384.15" r="1.25"/><circle cx="559.2" cy="381.45" r="1.25"/><circle cx="573.4" cy="381.45" r="2.35"/><circle cx="587.46" cy="381.45" r="2.35"/><circle cx="545" cy="386.85" r="2.35"/><circle cx="545" cy="388.2" r="2.85"/><circle cx="587.46" cy="386.85" r="2.85"/><circle cx="587.46" cy="388.2" r="2.35"/><circle cx="601.38" cy="388.2" r="1.25"/><circle cx="615.3" cy="385.5" r="1.25"/><circle cx="475.32" cy="261.25" r="1.25"/><circle cx="475.32" cy="268.05" r="1.25"/><circle cx="516.6" cy="268.05" r="1.25"/><circle cx="530.8" cy="308.25" r="1.25"/><circle cx="473.9" cy="321.45" r="1.25"/><circle cx="516.6" cy="321.45" r="1.25"/><circle cx="502.38" cy="334.65" r="1.25"/><circle cx="495.26" cy="347.85" r="1.25"/><circle cx="475.32" cy="361.2" r="1.25"/><circle cx="488.14" cy="361.2" r="1.25"/><circle cx="502.38" cy="361.2" r="2.55"/><circle cx="516.6" cy="361.2" r="1.25"/><circle cx="530.8" cy="361.2" r="1.25"/><circle cx="488.14" cy="367.95" r="2.55"/><circle cx="495.26" cy="367.95" r="1.25"/><circle cx="502.38" cy="367.95" r="2.25"/><circle cx="509.5" cy="367.95" r="1.25"/><circle cx="530.8" cy="367.95" r="2.25"/><circle cx="530.8" cy="372" r="1.25"/><circle cx="488.14" cy="374.7" r="1.25"/><circle cx="495.26" cy="374.7" r="2.55"/><circle cx="516.6" cy="377.4" r="2.25"/><circle cx="495.26" cy="381.45" r="2.25"/><circle cx="502.38" cy="384.15" r="1.85"/><circle cx="502.38" cy="381.45" r="1.25"/><circle cx="516.6" cy="381.45" r="1.95"/><circle cx="530.8" cy="381.45" r="2.25"/><circle cx="530.8" cy="377.4" r="1.25"/><circle cx="488.14" cy="386.85" r="2.75"/><circle cx="495.26" cy="386.85" r="2.25"/><circle cx="495.26" cy="384.15" r="1.25"/><circle cx="502.38" cy="386.85" r="2.75"/><circle cx="509.5" cy="388.2" r="1.25"/><circle cx="516.6" cy="386.85" r="2.25"/><circle cx="516.6" cy="384.15" r="1.75"/><circle cx="530.8" cy="386.85" r="2.75"/><circle cx="530.8" cy="384.15" r="2.15"/></g></g>
<text x="647.5" y="103" font-size="8.5" text-anchor="start" font-weight="normal" fill="#222" stroke="#222" stroke-width="0.08" textLength="37.2" lengthAdjust="spacingAndGlyphs">Frequency</text>
<g fill="#9bc432" stroke="#2b2d1c" stroke-width="0.55">
<circle cx="659.8" cy="113.3" r="1.45"/>
<circle cx="659.8" cy="122.3" r="2.6"/>
<circle cx="659.8" cy="133.3" r="4.8"/>
<circle cx="659.8" cy="148.4" r="6.45"/>
<circle cx="659.8" cy="168.8" r="8.2"/>
</g>
<text x="678.8" y="115.6" font-size="7" text-anchor="middle" font-weight="normal" fill="#222" stroke="#222" stroke-width="0.08">1</text>
<text x="678.8" y="124.6" font-size="7" text-anchor="middle" font-weight="normal" fill="#222" stroke="#222" stroke-width="0.08">5</text>
<text x="678.8" y="135.6" font-size="7" text-anchor="middle" font-weight="normal" fill="#222" stroke="#222" stroke-width="0.08">25</text>
<text x="678.8" y="150.7" font-size="7" text-anchor="middle" font-weight="normal" fill="#222" stroke="#222" stroke-width="0.08">50</text>
<text x="678.8" y="171.1" font-size="7" text-anchor="middle" font-weight="normal" fill="#222" stroke="#222" stroke-width="0.08">100</text>
<text x="647.5" y="321" font-size="8.5" text-anchor="start" font-weight="normal" fill="#222" stroke="#222" stroke-width="0.08" textLength="37.2" lengthAdjust="spacingAndGlyphs">Frequency</text>
<g fill="#9bc432" stroke="#2b2d1c" stroke-width="0.55">
<circle cx="659.8" cy="331.3" r="1.45"/>
<circle cx="659.8" cy="340.3" r="2.6"/>
<circle cx="659.8" cy="351.3" r="4.8"/>
<circle cx="659.8" cy="366.4" r="6.45"/>
<circle cx="659.8" cy="386.8" r="8.2"/>
</g>
<text x="678.8" y="333.6" font-size="7" text-anchor="middle" font-weight="normal" fill="#222" stroke="#222" stroke-width="0.08">1</text>
<text x="678.8" y="342.6" font-size="7" text-anchor="middle" font-weight="normal" fill="#222" stroke="#222" stroke-width="0.08">5</text>
<text x="678.8" y="353.6" font-size="7" text-anchor="middle" font-weight="normal" fill="#222" stroke="#222" stroke-width="0.08">25</text>
<text x="678.8" y="368.7" font-size="7" text-anchor="middle" font-weight="normal" fill="#222" stroke="#222" stroke-width="0.08">50</text>
<text x="678.8" y="389.1" font-size="7" text-anchor="middle" font-weight="normal" fill="#222" stroke="#222" stroke-width="0.08">100</text>
</svg></body></html>
